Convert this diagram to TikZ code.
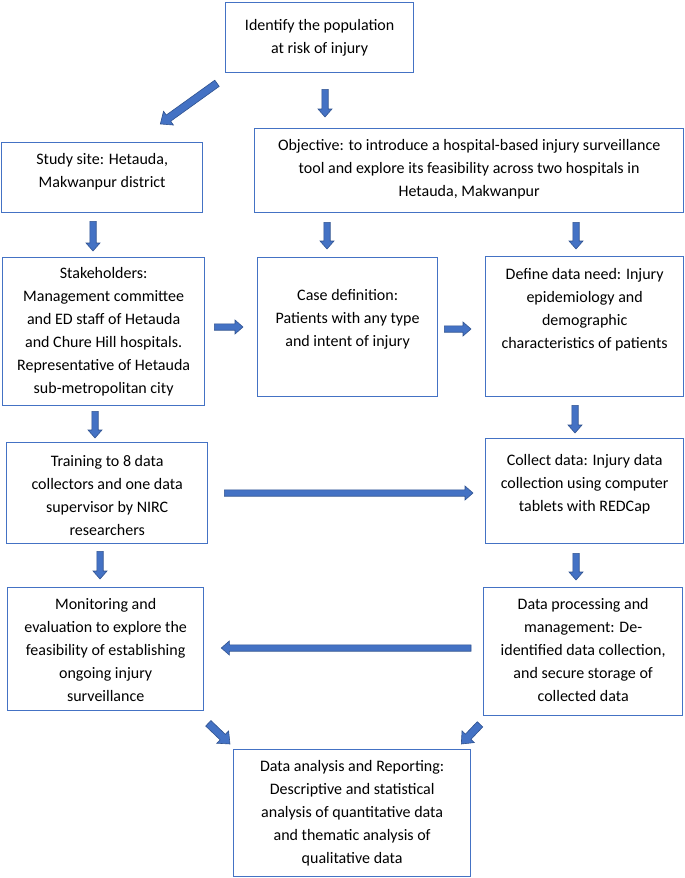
\documentclass[tikz,border=0pt]{standalone}
\usepackage{fontspec}
\setmainfont{Carlito}
\usetikzlibrary{calc}
\definecolor{boxblue}{HTML}{4472C4}
\definecolor{arrfill}{HTML}{4472C4}
\definecolor{arrline}{HTML}{2F528F}
\def\bsw{3.2}\def\bhw{7}\def\bhl{8}
\newcommand\blockarr[2]{%
  \path let \p3=($(#2)-(#1)$), \n1={atan2(\y3,\x3)}, \n2={veclen(\x3,\y3)} in
    \pgfextra{\xdef\baAng{\n1}\xdef\baLen{\n2}};
  \filldraw[fill=arrfill, draw=arrline, line width=0.6pt, line join=miter,
    shift={(#1)}, rotate=\baAng]
    (0pt,\bsw pt) -- ({\baLen-\bhl pt},\bsw pt) -- ({\baLen-\bhl pt},\bhw pt)
    -- ({\baLen},0pt) -- ({\baLen-\bhl pt},-\bhw pt)
    -- ({\baLen-\bhl pt},-\bsw pt) -- (0pt,-\bsw pt) -- cycle;
}
\tikzset{
  box/.style={draw=boxblue, line width=1.3pt, inner sep=0pt, anchor=north west, fill=white},
  txt/.style={font=\fontsize{16}{23}\selectfont, align=center, inner sep=0pt, anchor=north,
    execute at begin node=\strut, execute at end node=\strut},
}
\begin{document}
\begin{tikzpicture}[x=1pt,y=-1pt]
\useasboundingbox (0,0) rectangle (685,878);
% boxes
\node[box, minimum width=188pt, minimum height=70pt]  (top)      at (225,2) {};
\node[box, minimum width=201pt, minimum height=70pt]  (study)    at (1,142) {};
\node[box, minimum width=429pt, minimum height=84pt]  (obj)      at (254,128) {};
\node[box, minimum width=202pt, minimum height=148pt] (stake)    at (2,257) {};
\node[box, minimum width=180pt, minimum height=139pt] (case)     at (257,257) {};
\node[box, minimum width=198pt, minimum height=140pt] (define)   at (485,256) {};
\node[box, minimum width=201pt, minimum height=101pt] (train)    at (6,442) {};
\node[box, minimum width=198pt, minimum height=105pt] (collect)  at (485,438) {};
\node[box, minimum width=196pt, minimum height=123pt] (monitor)  at (7,587) {};
\node[box, minimum width=199pt, minimum height=128pt] (proc)     at (483,587) {};
\node[box, minimum width=237pt, minimum height=127pt] (analysis) at (233,749) {};
% texts
\node[txt] (topT) at ([yshift=-17.6pt]top.north) {Identify the population\\at risk of injury};
\node[txt] (studyT) at ([yshift=-11.6pt]study.north) {Study site: Hetauda,\\Makwanpur district};
\node[txt] (objT) at ([yshift=-11.6pt]obj.north) {Objective: to introduce a hospital-based injury surveillance\\tool and explore its feasibility across two hospitals in\\Hetauda, Makwanpur};
\node[txt] (stakeT) at ([yshift=-10.6pt]stake.north) {Stakeholders:\\Management committee\\and ED staff of Hetauda\\and Chure Hill hospitals.\\Representative of Hetauda\\sub-metropolitan city};
\node[txt] (caseT) at ([yshift=-32.6pt]case.north) {Case definition:\\Patients with any type\\and intent of injury};
\node[txt] (defineT) at ([yshift=-12.6pt]define.north) {Define data need: Injury\\epidemiology and\\demographic\\characteristics of patients};
\node[txt] (trainT) at ([yshift=-13.6pt]train.north) {Training to 8 data\\collectors and one data\\supervisor by NIRC\\researchers};
\node[txt] (collectT) at ([yshift=-16.6pt]collect.north) {Collect data: Injury data\\collection using computer\\tablets with REDCap};
\node[txt] (monitorT) at ([yshift=-11.6pt]monitor.north) {Monitoring and\\evaluation to explore the\\feasibility of establishing\\ongoing injury\\surveillance};
\node[txt] (procT) at ([yshift=-11.6pt]proc.north) {Data processing and\\management: De-\\identified data collection,\\and secure storage of\\collected data};
\node[txt] (analysisT) at ([yshift=-11.6pt]analysis.north) {Data analysis and Reporting:\\Descriptive and statistical\\analysis of quantitative data\\and thematic analysis of\\qualitative data};
% arrows
{\def\bsw{3.8}\def\bhw{8.5}\def\bhl{10}
\blockarr{$(top.south west)+(-8,10)$}{$(study.north east)+(-43,-18)$}
\blockarr{$(monitor.south east)+(4,12)$}{$(analysis.north west)+(-3,-5)$}
\blockarr{$(proc.south west)+(-3,8)$}{$(analysis.north east)+(-10,-5)$}
}
\blockarr{$(top.south west)+(100,16)$}{$(obj.north west)+(71,-11)$}
\blockarr{$(study.south west)+(92,8)$}{$(stake.north west)+(91,-6)$}
\blockarr{$(obj.south west)+(73,9)$}{$(case.north west)+(70,-8)$}
\blockarr{$(obj.south west)+(322,9)$}{$(define.north west)+(91,-7)$}
\blockarr{$(stake.north east)+(9,70)$}{$(case.north west)+(-14,70)$}
\blockarr{$(case.north east)+(6,72)$}{$(define.north west)+(-14,73)$}
\blockarr{$(stake.south west)+(93,5)$}{$(train.north west)+(89,-4)$}
\blockarr{$(define.south west)+(90,8)$}{$(collect.north west)+(90,-5)$}
\blockarr{$(train.north east)+(16,51)$}{$(collect.north west)+(-12,55)$}
\blockarr{$(train.south west)+(94,7)$}{$(monitor.north west)+(93,-8)$}
\blockarr{$(collect.south west)+(91,9)$}{$(proc.north west)+(93,-7)$}
\blockarr{$(proc.north west)+(-12,61)$}{$(monitor.north east)+(17,61)$}
\end{tikzpicture}
\end{document}
